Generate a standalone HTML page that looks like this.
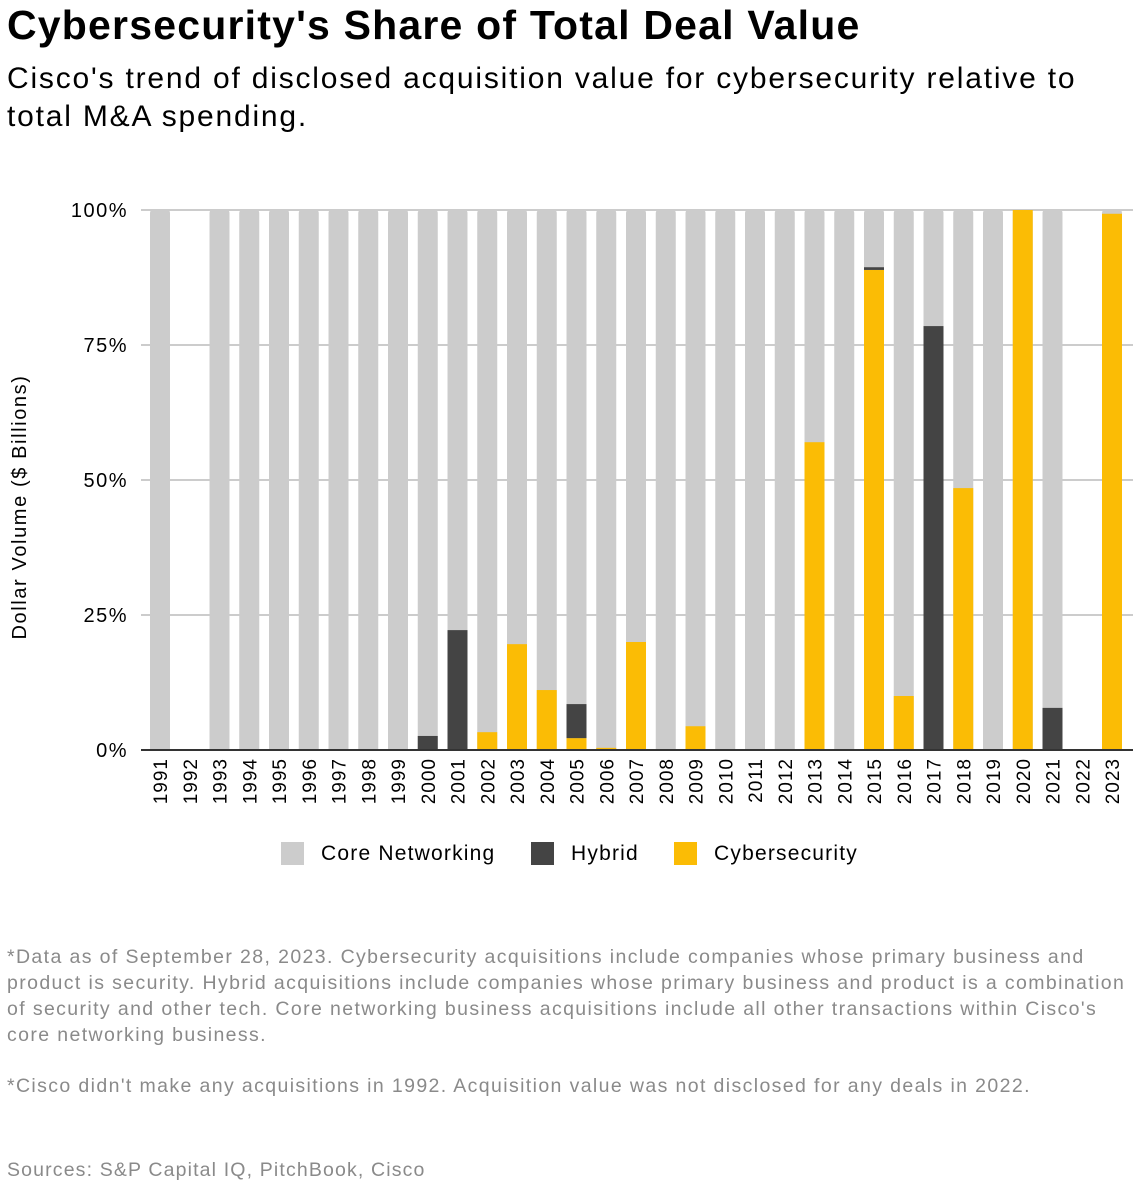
<!DOCTYPE html>
<html><head><meta charset="utf-8"><style>
body{margin:0;background:#fff;font-family:"Liberation Sans",sans-serif;width:1144px;height:1198px;position:relative;overflow:hidden}
.t{position:absolute;left:7px;top:2px;font-size:41px;font-weight:bold;color:#000;letter-spacing:1.2px;white-space:nowrap}
.s{position:absolute;left:7px;top:60px;font-size:30px;line-height:38px;color:#000;width:1100px;letter-spacing:1.8px}
.n{position:absolute;left:7px;font-size:19.5px;line-height:26px;color:#8a8a8a;width:1125px;letter-spacing:1.38px}
</style></head><body>
<div class="t">Cybersecurity's Share of Total Deal Value</div>
<div class="s">Cisco's trend of disclosed acquisition value for cybersecurity relative to total M&amp;A spending.</div>
<svg id="c" width="1144" height="900" style="position:absolute;left:0;top:0"></svg>
<div class="n" style="top:944px">*Data as of September 28, 2023. Cybersecurity acquisitions include companies whose primary business and product is security. Hybrid acquisitions include companies whose primary business and product is a combination of security and other tech. Core networking business acquisitions include all other transactions within Cisco's core networking business.</div>
<div class="n" style="top:1073px">*Cisco didn't make any acquisitions in 1992. Acquisition value was not disclosed for any deals in 2022.</div>
<div class="n" style="top:1157px;letter-spacing:1.15px">Sources: S&amp;P Capital IQ, PitchBook, Cisco</div>
<script>
const years=[1991,1992,1993,1994,1995,1996,1997,1998,1999,2000,2001,2002,2003,2004,2005,2006,2007,2008,2009,2010,2011,2012,2013,2014,2015,2016,2017,2018,2019,2020,2021,2022,2023];
const cyber=[0,0,0,0,0,0,0,0,0,0,0,3.3,19.6,11.1,2.2,0.4,20,0,4.4,0,0,0,57,0,88.9,10,0,48.5,0,100,0,0,99.3];
const hybrid=[0,0,0,0,0,0,0,0,0,2.6,22.2,0,0,0,6.3,0,0,0,0,0,0,0,0,0,0.5,0,78.5,0,0,0,7.8,0,0];
const hasData=[1,0,1,1,1,1,1,1,1,1,1,1,1,1,1,1,1,1,1,1,1,1,1,1,1,1,1,1,1,1,1,0,1];
const yTicks=[0,25,50,75,100];
const svg=document.getElementById('c');const NS='http://www.w3.org/2000/svg';
function mk(t,a,p){const e=document.createElementNS(NS,t);for(const k in a)e.setAttribute(k,a[k]);(p||svg).appendChild(e);return e;}
const x0=141,x1=1133,yB=750,yT=210,bw=20,first=160,step=29.75;
const y=v=>yB-(v/100)*(yB-yT);
const xc=i=>first+step*i;
yTicks.forEach(t=>{
 if(t>0){const g=mk('line',{x1:x0,x2:x1,y1:y(t),y2:y(t),stroke:'#cccccc','stroke-width':2});
 
 }
 const l=mk('text',{x:128,y:y(t)+7,'text-anchor':'end','font-size':20,fill:'#000','letter-spacing':1.5});l.textContent=t+'%';
 
 
});
const yt=mk('text',{transform:'translate(26,507) rotate(-90)','text-anchor':'middle','font-size':20,fill:'#000','letter-spacing':1.6});yt.textContent='Dollar Volume ($ Billions)';


years.forEach((yr,i)=>{
 const cx=xc(i),bx=cx-bw/2;
 if(hasData[i]){
  const r=mk('path',{d:`M${bx},${yB}V${yT+3}Q${bx},${yT} ${bx+3},${yT}H${bx+bw-3}Q${bx+bw},${yT} ${bx+bw},${yT+3}V${yB}Z`,fill:'#cccccc'});
  
  
  if(cyber[i]>0){const c=mk('rect',{x:bx,y:y(cyber[i]),width:bw,height:yB-y(cyber[i]),fill:'#fbbc05'});
   
   }
  if(hybrid[i]>0){const h=mk('rect',{x:bx,y:y(cyber[i]+hybrid[i]),width:bw,height:y(cyber[i])-y(cyber[i]+hybrid[i]),fill:'#444444'});
   
   }
 }
 const t=mk('text',{transform:`translate(${cx+7},758) rotate(-90)`,'text-anchor':'end','font-size':19,fill:'#000','letter-spacing':1});t.textContent=yr;
 
 
});
const ax=mk('line',{x1:x0,x2:x1,y1:yB,y2:yB,stroke:'#333','stroke-width':2});


[['Core Networking','#cccccc',281],['Hybrid','#444444',531],['Cybersecurity','#fbbc05',674]].forEach(([n,col,lx])=>{
 const s=mk('rect',{x:lx,y:842,width:23,height:23,fill:col});
 
 
 const t=mk('text',{x:lx+40,y:860,'font-size':21,fill:'#000','letter-spacing':1.2});t.textContent=n;
 
 
});
</script>
</body></html>
